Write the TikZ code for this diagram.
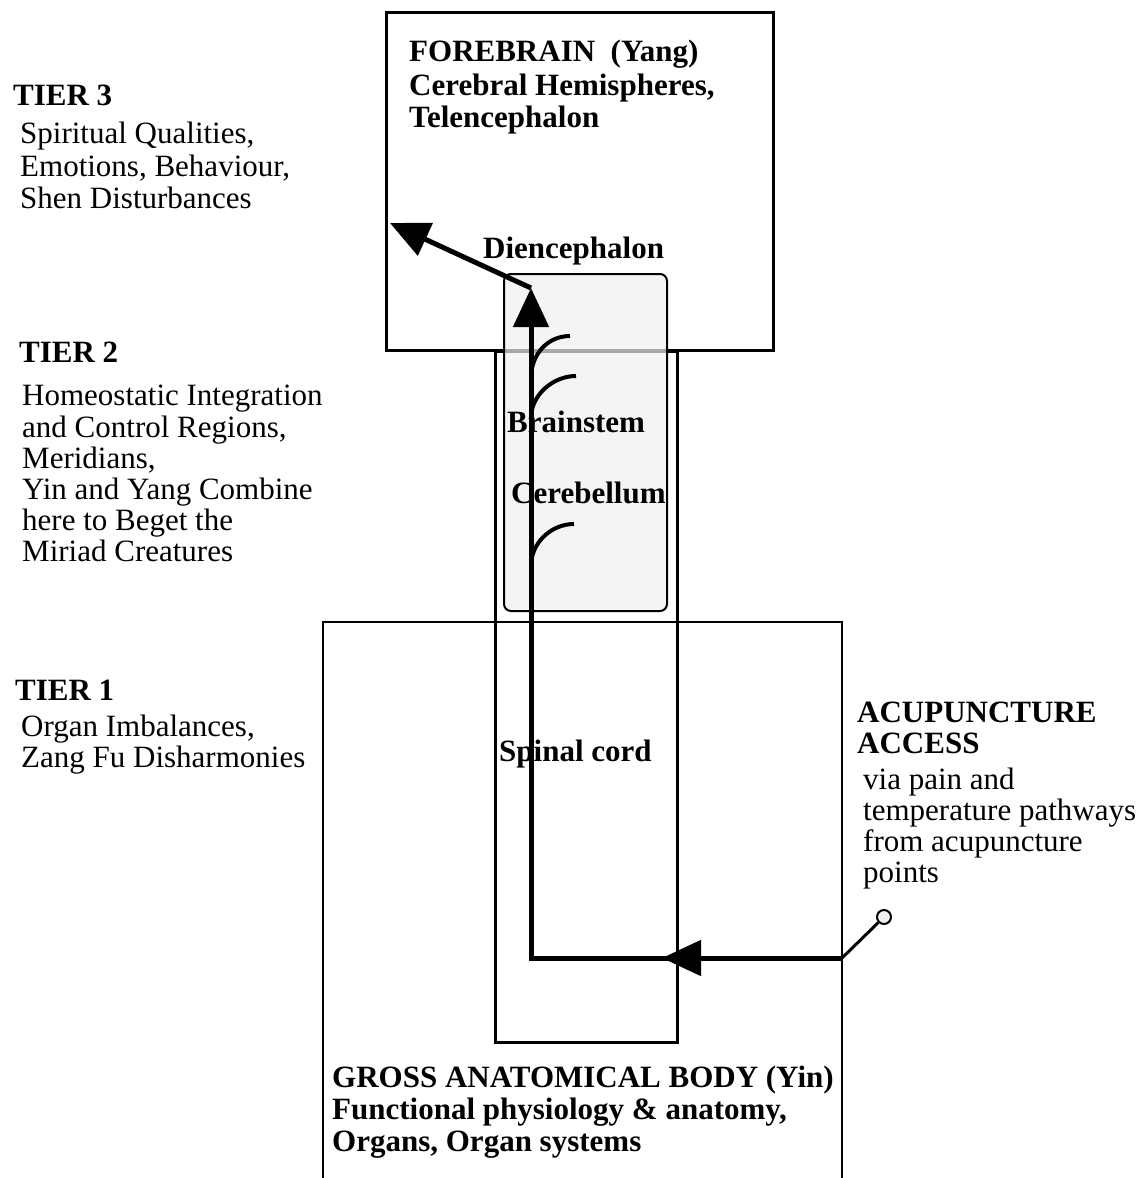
\documentclass[tikz,border=0pt]{standalone}
\usepackage{fontspec}
\setmainfont{Liberation Serif}
\usetikzlibrary{arrows.meta}
\begin{document}
\begin{tikzpicture}[x=1pt,y=-1pt,
  box/.style={draw, line width=2.5pt, inner sep=0pt},
  lbl/.style={anchor=base west, inner sep=0pt, font=\fontsize{31}{33}\selectfont},
  blbl/.style={anchor=base west, inner sep=0pt, font=\fontsize{31}{33}\selectfont\bfseries},
  thickpath/.style={line width=5pt},
  tip/.style={-{Triangle[length=39pt,width=35pt]}},
  arcline/.style={line width=4pt},
]
\useasboundingbox (0,0) rectangle (1141,1178);

% boxes
\node[box, anchor=north west, minimum width=387pt, minimum height=338pt] (fore) at (385,11) {};
\node[box, anchor=north west, minimum width=182pt, minimum height=691pt] (stem) at (494,350) {};
\node[draw, line width=2pt, rounded corners=7pt, fill=gray!12, fill opacity=0.7, inner sep=0pt,
      anchor=north west, minimum width=163pt, minimum height=337pt] (dien) at (503,273) {};

% left texts
\node[blbl] (t3) at (13,105) {TIER 3};
\node[lbl] (t3a) at (20,143) {Spiritual Qualities,};
\node[lbl] (t3b) at (20,176) {Emotions, Behaviour,};
\node[lbl] (t3c) at (20,208) {Shen Disturbances};

\node[blbl] (t2) at (19,362) {TIER 2};
\node[lbl] (t2a) at (22,405) {Homeostatic Integration};
\node[lbl] (t2b) at (22,437) {and Control Regions,};
\node[lbl] (t2c) at (22,468) {Meridians,};
\node[lbl] (t2d) at (22,499) {Yin and Yang Combine};
\node[lbl] (t2e) at (22,530) {here to Beget the};
\node[lbl] (t2f) at (22,561) {Miriad Creatures};

\node[blbl] (t1) at (15,700) {TIER 1};
\node[lbl] (t1a) at (21,736) {Organ Imbalances,};
\node[lbl] (t1b) at (21,767) {Zang Fu Disharmonies};

% forebrain texts
\node[blbl] (fa) at (409,61) {FOREBRAIN\ \ (Yang)};
\node[blbl] (fb) at (409,95) {Cerebral Hemispheres,};
\node[blbl] (fc) at (409,127) {Telencephalon};
\node[blbl] (di) at (483,258) {Diencephalon};
\node[blbl] (bs) at (507,432) {Brainstem};
\node[blbl] (cb) at (511,503) {Cerebellum};
\node[blbl] (sc) at (499,761) {Spinal cord};

% acupuncture texts
\node[blbl] (aa) at (857,722) {ACUPUNCTURE};
\node[blbl] (ab) at (857,753) {ACCESS};
\node[lbl] (ac) at (863,789) {via pain and};
\node[lbl] (ad) at (863,820) {temperature pathways};
\node[lbl] (ae) at (863,851) {from acupuncture};
\node[lbl] (af) at (863,882) {points};

% body texts
\node[blbl] (ga) at (332,1087) {GROSS ANATOMICAL BODY (Yin)};
\node[blbl] (gb) at (332,1119) {Functional physiology \& anatomy,};
\node[blbl] (gc) at (332,1151) {Organs, Organ systems};

% lower body box (open at the bottom)
\coordinate (bodyBL) at (323,1182);
\coordinate (bodyTL) at (323,622);
\coordinate (bodyTR) at (842,622);
\coordinate (bodyBR) at (842,1182);
\draw[line width=2.5pt] (bodyBL) -- (bodyTL) -- (bodyTR) -- (bodyBR);

% pathway
\coordinate (entry) at (842,958);
\coordinate (corner) at (531,958);
\coordinate (top) at (531,288);
\coordinate (mid) at (662,958);
\coordinate (out) at (390,223);
\node[circle, draw, line width=2pt, fill=gray!12, minimum size=14pt, inner sep=0pt] (acp) at (884,917) {};

\draw[line width=3pt] (entry) -- (acp);
\draw[thickpath, tip] (entry) -- (corner) -- (top);
\draw[thickpath, tip] (entry) -- (mid);
\draw[thickpath, tip] (top) -- (out);

% synaptic arcs
\coordinate (a1s) at (531,378); \coordinate (a1e) at (570,336);
\coordinate (a2s) at (531,418); \coordinate (a2e) at (576,376);
\coordinate (a3s) at (531,566); \coordinate (a3e) at (574,524);
\draw[arcline] (a1s) .. controls (531,355) and (547,336) .. (a1e);
\draw[arcline] (a2s) .. controls (531,395) and (553,376) .. (a2e);
\draw[arcline] (a3s) .. controls (531,543) and (551,524) .. (a3e);
\end{tikzpicture}
\end{document}
